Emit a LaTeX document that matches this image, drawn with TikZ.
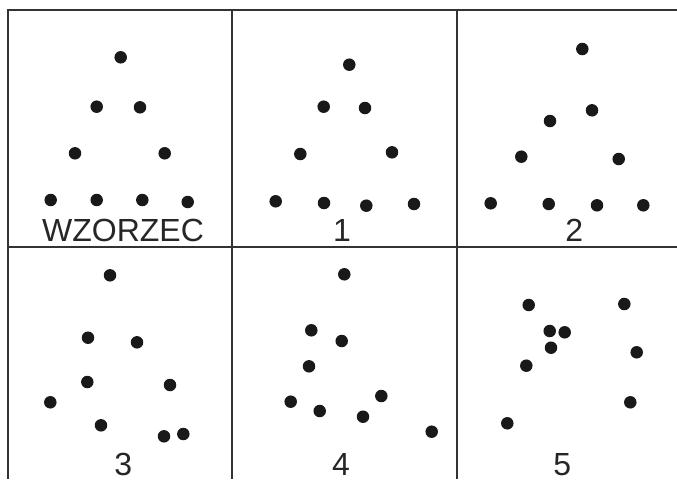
\documentclass[tikz,border=0pt]{standalone}
\usepackage{fontspec}
\setmainfont{Liberation Sans}
\begin{document}
\begin{tikzpicture}[x=1pt,y=-1pt,
  grid/.style={draw=black!80,line width=1.4pt},
  dot/.style={circle,fill=black!90,inner sep=0pt,minimum size=12.5pt},
  lbl/.style={anchor=base,inner sep=0pt,font=\fontsize{32}{36}\selectfont,text=black!85}]
\useasboundingbox (0,0) rectangle (677,479);
% grid
\draw[grid] (7,10) -- (677,10);
\draw[grid] (8,247) -- (677,247);
\draw[grid] (8,10) -- (8,479);
\draw[grid] (232,10) -- (232,479);
\draw[grid] (457,10) -- (457,479);
% WZORZEC
\foreach \x/\y [count=\i] in {120.7/57.3,96.7/106.7,140/107.3,75/153.3,164.7/153.3,50.7/200,96.7/200,142.3/200,187.7/202}
  \node[dot] (w\i) at (\x,\y) {};
\node[lbl] (tw) at (123,241.7) {WZORZEC};
% 1
\foreach \x/\y [count=\i] in {349.3/64.7,323.7/106.7,365/108,300.3/154,392/152.3,275.7/201.3,324/203,366.3/205.7,414/204}
  \node[dot] (a\i) at (\x,\y) {};
\node[lbl] (t1) at (342,241.7) {1};
% 2
\foreach \x/\y [count=\i] in {582.3/49,550/121,592/110.3,521.3/156.7,618.7/159,490.7/203.3,548.7/204,597/205.3,643.3/205.3}
  \node[dot] (b\i) at (\x,\y) {};
\node[lbl] (t2) at (574.3,241.7) {2};
% 3
\foreach \x/\y [count=\i] in {110/275.3,88/337.7,137/342.3,87.3/382,170/385,50.3/402.3,101/425.3,164/436.3,183.3/434}
  \node[dot] (c\i) at (\x,\y) {};
\node[lbl] (t3) at (123.3,475) {3};
% 4
\foreach \x/\y [count=\i] in {344.3/274.3,311.3/330.3,341.7/341,309/366.3,290.7/401.7,319.7/411,363/416.7,381.3/396,431.7/431.7}
  \node[dot] (d\i) at (\x,\y) {};
\node[lbl] (t4) at (341,475) {4};
% 5
\foreach \x/\y [count=\i] in {528.7/305,624.3/304,549.7/331,564.7/332.3,551/347.7,636.7/352.3,526.3/365.7,630.3/402.3,507.3/423.3}
  \node[dot] (e\i) at (\x,\y) {};
\node[lbl] (t5) at (562.3,475) {5};
\end{tikzpicture}
\end{document}
